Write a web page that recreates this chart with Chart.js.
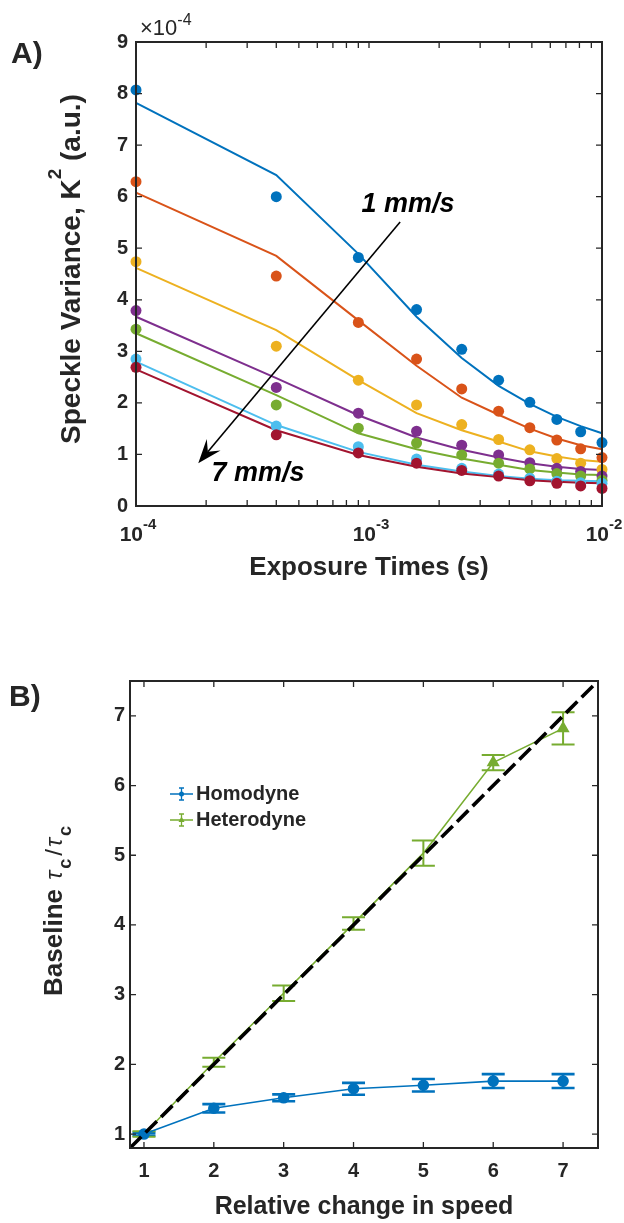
<!DOCTYPE html>
<html>
<head>
<meta charset="utf-8">
<title>Speckle variance and decorrelation time</title>
<script src="https://cdn.jsdelivr.net/npm/chart.js@4.4.0/dist/chart.umd.min.js"></script>
<style>
  html, body { margin: 0; padding: 0; background: #fff; }
  .panel { position: absolute; left: 0; width: 624px; }
  #panelA { top: 0; height: 600px; }
  #panelB { top: 600px; height: 623px; }
</style>
</head>
<body>
<div class="panel" id="panelA"><canvas id="chartA" width="624" height="600"></canvas></div>
<div class="panel" id="panelB"><canvas id="chartB" width="624" height="623"></canvas></div>
<script>
'use strict'

// ---- panel A: speckle variance vs exposure time ----
const exposureTimes = [1e-4, 4e-4, 9e-4, 1.6e-3, 2.5e-3, 3.6e-3, 4.9e-3, 6.4e-3, 8.1e-3, 1e-2];
const speeds = ['1 mm/s', '2 mm/s', '3 mm/s', '4 mm/s', '5 mm/s', '6 mm/s', '7 mm/s'];

// measured K^2, in units of 1e-4
const measured1 = [8.07, 6.00, 4.82, 3.81, 3.04, 2.44, 2.01, 1.68, 1.44, 1.23];
const measured2 = [6.29, 4.46, 3.56, 2.85, 2.27, 1.84, 1.52, 1.28, 1.11, 0.94];
const measured3 = [4.74, 3.10, 2.44, 1.96, 1.58, 1.29, 1.09, 0.92, 0.83, 0.71];
const measured4 = [3.79, 2.30, 1.80, 1.45, 1.18, 0.99, 0.84, 0.73, 0.67, 0.58];
const measured5 = [3.43, 1.96, 1.51, 1.22, 0.99, 0.83, 0.72, 0.63, 0.58, 0.50];
const measured6 = [2.85, 1.55, 1.15, 0.91, 0.73, 0.62, 0.54, 0.48, 0.45, 0.44];
const measured7 = [2.69, 1.38, 1.03, 0.83, 0.69, 0.58, 0.49, 0.44, 0.39, 0.34];

// fitted model, same units
const fit1 = [7.82, 6.42, 4.89, 3.67, 2.87, 2.33, 1.98, 1.73, 1.55, 1.41];
const fit2 = [6.08, 4.85, 3.60, 2.72, 2.10, 1.77, 1.50, 1.31, 1.18, 1.10];
const fit3 = [4.62, 3.41, 2.44, 1.80, 1.47, 1.25, 1.06, 0.96, 0.89, 0.86];
const fit4 = [3.67, 2.48, 1.76, 1.33, 1.09, 0.94, 0.83, 0.76, 0.72, 0.70];
const fit5 = [3.35, 2.15, 1.41, 1.10, 0.92, 0.80, 0.70, 0.65, 0.61, 0.60];
const fit6 = [2.80, 1.57, 1.05, 0.80, 0.67, 0.58, 0.53, 0.50, 0.49, 0.48];
const fit7 = [2.65, 1.47, 0.99, 0.76, 0.63, 0.56, 0.50, 0.47, 0.45, 0.44];

const measured = [measured1, measured2, measured3, measured4, measured5, measured6, measured7];
const fits = [fit1, fit2, fit3, fit4, fit5, fit6, fit7];

const decadeTicks = [1e-4, 1e-3, 1e-2];
const varianceTicks = [0, 1, 2, 3, 4, 5, 6, 7, 8, 9];

// ---- panel B: baseline tau_c ratio vs speed ----
const speedRatio = [1, 2, 3, 4, 5, 6, 7];
const homodyne = [1.00, 1.37, 1.52, 1.65, 1.70, 1.76, 1.76];
const homodyneErr = [0.02, 0.06, 0.05, 0.085, 0.09, 0.10, 0.10];
const heterodyne = [1.00, 2.03, 3.02, 4.02, 5.03, 6.33, 6.82];
const heterodyneErr = [0.04, 0.065, 0.11, 0.09, 0.18, 0.11, 0.23];
const unityLine = [0.8, 7.5];
const ratioTicks = [1, 2, 3, 4, 5, 6, 7];

const ink = '#262626';
const sans = '"Liberation Sans", Arial, Helvetica, sans-serif';
const lineColors = ['#0072BD', '#D95319', '#EDB120', '#7E2F8E', '#77AC30', '#4DBEEE', '#A2142F'];

Chart.defaults.font.family = sans;
Chart.defaults.color = ink;
Chart.defaults.animation = false;
Chart.defaults.plugins.legend.display = false;
Chart.defaults.plugins.tooltip.enabled = false;

// text made of runs with their own font and baseline shift
function drawRichText(ctx, parts, x, y, rotate, align) {
    ctx.save();
    ctx.translate(x, y);
    if (rotate) ctx.rotate(-Math.PI / 2);
    let total = 0;
    parts.forEach(p => {
        ctx.font = p.font;
        p.w = ctx.measureText(p.text).width + (p.gap || 0);
        total += p.w;
    });
    let cx = align === 'left' ? 0 : -total / 2;
    ctx.fillStyle = ink;
    ctx.textAlign = 'left';
    ctx.textBaseline = 'alphabetic';
    parts.forEach(p => {
        ctx.font = p.font;
        ctx.fillText(p.text, cx, p.dy || 0);
        cx += p.w;
    });
    ctx.restore();
}

// box around the plot with inward ticks on all four sides
function framePlugin(xTicks, yTicks) {
    return {
        id: 'frame',
        afterDatasetsDraw(chart) {
            const {ctx, chartArea: a, scales: {x, y}} = chart;
            const len = 6;
            ctx.save();
            ctx.strokeStyle = ink;
            ctx.lineWidth = 1.3;
            ctx.beginPath();
            xTicks.forEach(v => {
                const px = x.getPixelForValue(v);
                ctx.moveTo(px, a.bottom);
                ctx.lineTo(px, a.bottom - len);
                ctx.moveTo(px, a.top);
                ctx.lineTo(px, a.top + len);
            });
            yTicks.forEach(v => {
                const py = y.getPixelForValue(v);
                ctx.moveTo(a.left, py);
                ctx.lineTo(a.left + len, py);
                ctx.moveTo(a.right, py);
                ctx.lineTo(a.right - len, py);
            });
            ctx.stroke();
            ctx.lineWidth = 2;
            ctx.strokeRect(a.left, a.top, a.width, a.height);
            ctx.restore();
        }
    };
}

// log axis gets minor ticks at 2..9 of each decade
const logTicks = [];
for (let d = -4; d < -2; d++) {
    for (let k = 1; k < 10; k++) logTicks.push(k * Math.pow(10, d));
}
logTicks.push(1e-2);

const arrowFrom = [1.36e-3, 5.51];
const arrowTo = [1.85e-4, 0.83];
const speedNotes = [
    {text: speeds[0], at: [1.47e-3, 5.84]},
    {text: speeds[6], at: [3.34e-4, 0.63]}
];

function drawArrow(ctx, x0, y0, x1, y1) {
    const ang = Math.atan2(y1 - y0, x1 - x0);
    const c = Math.cos(ang), s = Math.sin(ang);
    const len = 24, half = 9, notch = 15;
    ctx.beginPath();
    ctx.moveTo(x0, y0);
    ctx.lineTo(x1 - c * notch, y1 - s * notch);
    ctx.stroke();
    ctx.beginPath();
    ctx.moveTo(x1, y1);
    ctx.lineTo(x1 - c * len + s * half, y1 - s * len - c * half);
    ctx.lineTo(x1 - c * notch, y1 - s * notch);
    ctx.lineTo(x1 - c * len - s * half, y1 - s * len + c * half);
    ctx.closePath();
    ctx.fill();
}

const panelAExtras = {
    id: 'panelAExtras',
    afterDraw(chart) {
        const {ctx, chartArea: a, scales: {x, y}} = chart;

        ctx.save();
        ctx.fillStyle = ink;
        ctx.font = 'bold 30px ' + sans;
        ctx.textBaseline = 'middle';
        ctx.fillText('A)', 11, 55);
        ctx.restore();

        drawRichText(ctx, [
            {text: 'Speckle Variance, K', font: 'bold 28px ' + sans},
            {text: '2', font: 'bold 19px ' + sans, dy: -19},
            {text: ' (a.u.)', font: 'bold 28px ' + sans}
        ], 80, 269, true, 'center');

        drawRichText(ctx, [
            {text: '×10', font: '22px ' + sans},
            {text: '-4', font: '16px ' + sans, dy: -10}
        ], a.left + 4, a.top - 7, false, 'left');

        // decade labels 10^n under the log axis
        decadeTicks.forEach(v => {
            drawRichText(ctx, [
                {text: '10', font: 'bold 21px ' + sans},
                {text: String(Math.round(Math.log10(v))), font: 'bold 15px ' + sans, dy: -12}
            ], x.getPixelForValue(v) + 2, a.bottom + 35, false, 'center');
        });

        ctx.save();
        ctx.strokeStyle = '#000';
        ctx.fillStyle = '#000';
        ctx.lineWidth = 1.6;
        drawArrow(ctx,
            x.getPixelForValue(arrowFrom[0]), y.getPixelForValue(arrowFrom[1]),
            x.getPixelForValue(arrowTo[0]), y.getPixelForValue(arrowTo[1]));
        ctx.font = 'italic bold 27px ' + sans;
        ctx.textAlign = 'center';
        ctx.textBaseline = 'middle';
        speedNotes.forEach(n => {
            ctx.fillText(n.text, x.getPixelForValue(n.at[0]), y.getPixelForValue(n.at[1]));
        });
        ctx.restore();
    }
};

const fitSets = fits.map((f, i) => ({
    label: speeds[i] + ' fit',
    data: exposureTimes.map((t, j) => ({x: t, y: f[j]})),
    showLine: true,
    borderColor: lineColors[i],
    borderWidth: 2,
    pointRadius: 0,
    clip: false,
    order: 20 - i
}));

const dotSets = measured.map((m, i) => ({
    label: speeds[i],
    data: exposureTimes.map((t, j) => ({x: t, y: m[j]})),
    showLine: false,
    backgroundColor: lineColors[i],
    borderWidth: 0,
    pointRadius: 5.5,
    clip: false,
    order: 6 - i
}));

new Chart(document.getElementById('chartA'), {
    type: 'scatter',
    data: {datasets: [...fitSets, ...dotSets]},
    options: {
        responsive: false,
        layout: {padding: {top: 42, right: 22, left: 0, bottom: 0}},
        scales: {
            x: {
                type: 'logarithmic',
                min: 1e-4,
                max: 1e-2,
                afterBuildTicks: s => { s.ticks = decadeTicks.map(v => ({value: v})); },
                afterFit: s => { s.height = 94; },
                grid: {display: false, drawTicks: false},
                border: {display: false},
                ticks: {display: false},
                title: {
                    display: true,
                    text: 'Exposure Times (s)',
                    font: {size: 26, weight: 'bold'},
                    padding: {top: 0, bottom: 17}
                }
            },
            y: {
                min: 0,
                max: 9,
                afterFit: s => { s.width = 136; },
                grid: {display: false, drawTicks: false},
                border: {display: false},
                ticks: {stepSize: 1, padding: 8, font: {size: 20, weight: 'bold'}}
            }
        }
    },
    plugins: [framePlugin(logTicks, varianceTicks), panelAExtras]
});

// ---- panel B ----
const errorBars = {
    id: 'errorBars',
    beforeDatasetsDraw(chart) {
        const {ctx, scales: {x, y}} = chart;
        chart.data.datasets.forEach(ds => {
            if (!ds.errors) return;
            ctx.save();
            ctx.strokeStyle = ds.borderColor;
            ctx.lineWidth = ds.errorWidth;
            ds.data.forEach((p, i) => {
                const px = x.getPixelForValue(p.x);
                const top = y.getPixelForValue(p.y + ds.errors[i]);
                const bottom = y.getPixelForValue(p.y - ds.errors[i]);
                ctx.beginPath();
                ctx.moveTo(px, top);
                ctx.lineTo(px, bottom);
                ctx.moveTo(px - 11.5, top);
                ctx.lineTo(px + 11.5, top);
                ctx.moveTo(px - 11.5, bottom);
                ctx.lineTo(px + 11.5, bottom);
                ctx.stroke();
            });
            ctx.restore();
        });
    }
};

const panelBExtras = {
    id: 'panelBExtras',
    afterDraw(chart) {
        const {ctx, chartArea: a} = chart;

        ctx.save();
        ctx.fillStyle = ink;
        ctx.font = 'bold 30px ' + sans;
        ctx.textBaseline = 'middle';
        ctx.fillText('B)', 9, 98);
        ctx.restore();

        drawRichText(ctx, [
            {text: 'Baseline ', font: 'bold 26px ' + sans, gap: 2},
            {text: 'τ', font: 'italic 24px ' + sans, gap: 2},
            {text: 'c', font: 'bold 18px ' + sans, dy: 9, gap: 3},
            {text: '/', font: '24px ' + sans, gap: 2},
            {text: 'τ', font: 'italic 24px ' + sans, gap: 2},
            {text: 'c', font: 'bold 18px ' + sans, dy: 9}
        ], 62, 311, true, 'center');

        // legend: line sample with a small error bar and marker
        const series = chart.data.datasets.filter(ds => ds.errors);
        series.forEach((ds, i) => {
            const yy = a.top + 113 + i * 26;
            const x0 = a.left + 40, x1 = a.left + 63, xm = (x0 + x1) / 2;
            ctx.save();
            ctx.strokeStyle = ds.borderColor;
            ctx.fillStyle = ds.borderColor;
            ctx.lineWidth = 1.3;
            ctx.beginPath();
            ctx.moveTo(x0, yy);
            ctx.lineTo(x1, yy);
            ctx.moveTo(xm, yy - 6);
            ctx.lineTo(xm, yy + 6);
            ctx.moveTo(xm - 2.5, yy - 6);
            ctx.lineTo(xm + 2.5, yy - 6);
            ctx.moveTo(xm - 2.5, yy + 6);
            ctx.lineTo(xm + 2.5, yy + 6);
            ctx.stroke();
            ctx.beginPath();
            if (ds.pointStyle === 'triangle') {
                ctx.moveTo(xm, yy - 3.5);
                ctx.lineTo(xm + 3, yy + 2);
                ctx.lineTo(xm - 3, yy + 2);
                ctx.closePath();
            } else {
                ctx.arc(xm, yy, 2.5, 0, Math.PI * 2);
            }
            ctx.fill();
            ctx.fillStyle = ink;
            ctx.font = 'bold 20px ' + sans;
            ctx.textBaseline = 'middle';
            ctx.fillText(ds.label, x1 + 3, yy);
            ctx.restore();
        });
    }
};

new Chart(document.getElementById('chartB'), {
    type: 'scatter',
    data: {
        datasets: [
            {
                label: 'Unity',
                data: unityLine.map(v => ({x: v, y: v})),
                showLine: true,
                borderColor: '#000',
                borderWidth: 3.6,
                borderDash: [16, 6],
                pointRadius: 0,
                order: 0
            },
            {
                label: 'Homodyne',
                data: speedRatio.map((s, i) => ({x: s, y: homodyne[i]})),
                errors: homodyneErr,
                errorWidth: 2.6,
                showLine: true,
                borderColor: lineColors[0],
                backgroundColor: lineColors[0],
                borderWidth: 1.6,
                pointStyle: 'circle',
                pointRadius: 5,
                order: 1
            },
            {
                label: 'Heterodyne',
                data: speedRatio.map((s, i) => ({x: s, y: heterodyne[i]})),
                errors: heterodyneErr,
                errorWidth: 2,
                showLine: true,
                borderColor: lineColors[4],
                backgroundColor: lineColors[4],
                borderWidth: 1.6,
                pointStyle: 'triangle',
                // markers sit under the unity line except for the last two
                pointRadius: [0, 0, 0, 0, 0, 6, 6],
                order: 2
            }
        ]
    },
    options: {
        responsive: false,
        layout: {padding: {top: 81, right: 26, left: 0, bottom: 0}},
        scales: {
            x: {
                type: 'linear',
                min: 0.8,
                max: 7.5,
                afterBuildTicks: s => { s.ticks = ratioTicks.map(v => ({value: v})); },
                afterFit: s => { s.height = 75; },
                grid: {display: false, drawTicks: false},
                border: {display: false},
                ticks: {autoSkip: false, maxRotation: 0, padding: 11, font: {size: 20, weight: 'bold'}},
                title: {
                    display: true,
                    text: 'Relative change in speed',
                    font: {size: 25, weight: 'bold'},
                    padding: {top: 0, bottom: 1}
                }
            },
            y: {
                min: 0.8,
                max: 7.5,
                afterBuildTicks: s => { s.ticks = ratioTicks.map(v => ({value: v})); },
                afterFit: s => { s.width = 130; },
                grid: {display: false, drawTicks: false},
                border: {display: false},
                ticks: {padding: 5, font: {size: 20, weight: 'bold'}}
            }
        }
    },
    plugins: [errorBars, framePlugin(ratioTicks, ratioTicks), panelBExtras]
});
</script>
</body>
</html>
